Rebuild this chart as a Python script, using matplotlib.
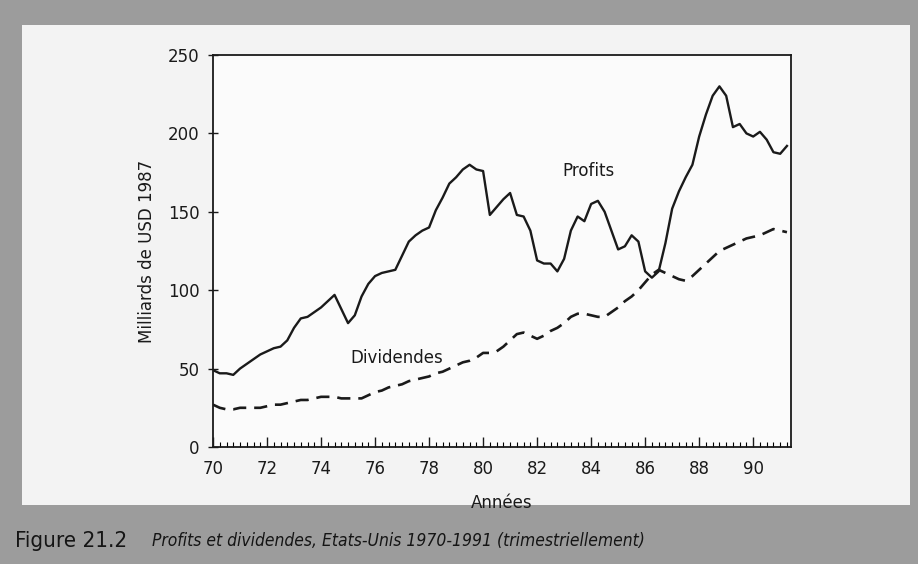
import numpy as np
import matplotlib.pyplot as plt
from matplotlib.patches import Rectangle
from matplotlib.ticker import MultipleLocator

# trimestres 1970T1 - 1991T2
annees = np.arange(1970, 1991.5, 0.25)

profits = [
    49, 47, 47, 46, 50, 53, 56, 59,
    61, 63, 64, 68, 76, 82, 83, 86,
    89, 93, 97, 88, 79, 84, 96, 104,
    109, 111, 112, 113, 122, 131, 135, 138,
    140, 151, 159, 168, 172, 177, 180, 177,
    176, 148, 153, 158, 162, 148, 147, 138,
    119, 117, 117, 112, 120, 138, 147, 144,
    155, 157, 150, 138, 126, 128, 135, 131,
    112, 108, 112, 130, 152, 163, 172, 180,
    198, 212, 224, 230, 224, 204, 206, 200,
    198, 201, 196, 188, 187, 192,
]

dividendes = [
    27, 25, 24, 24, 25, 25, 25, 25,
    26, 27, 27, 28, 29, 30, 30, 31,
    32, 32, 32, 31, 31, 31, 31, 33,
    35, 36, 38, 39, 40, 42, 43, 44,
    45, 47, 48, 50, 52, 54, 55, 57,
    60, 60, 61, 64, 68, 72, 73, 71,
    69, 71, 74, 76, 79, 83, 85, 85,
    84, 83, 83, 86, 89, 93, 96, 100,
    105, 110, 113, 111, 109, 107, 106, 109,
    113, 117, 121, 125, 127, 129, 131, 133,
    134, 135, 137, 139, 138, 137,
]

fig = plt.figure(figsize=(9.18, 5.64), dpi=100)
fig.patch.set_facecolor("#9c9c9c")

# panneau clair du scan (axes de fond)
bg = fig.add_axes([0, 0, 1, 1], zorder=-1)
bg.set_xlim(0, 918)
bg.set_ylim(564, 0)
bg.axis("off")
bg.add_patch(Rectangle((22, 25), 888, 480, facecolor="#f3f3f3", edgecolor="none"))

ax = fig.add_axes([213 / 918, 1 - 447 / 564, (791 - 213) / 918, (447 - 55) / 564])
ax.set_facecolor("#fbfbfb")

ax.plot(annees, profits, color="#1a1a1a", lw=1.7)
ax.plot(annees, dividendes, color="#1a1a1a", lw=1.9, ls=(0, (5, 3)))

ax.set_xlim(1970, 1991.4)
ax.set_ylim(0, 250)

ax.xaxis.set_minor_locator(MultipleLocator(0.25))
ax.set_xticks(np.arange(1970, 1991, 2))
ax.set_xticklabels([str(a % 100) for a in range(1970, 1991, 2)])
ax.yaxis.set_major_locator(MultipleLocator(50))

ax.tick_params(axis="x", which="major", direction="in", length=7, width=1, labelsize=12,
               pad=9, colors="#1a1a1a")
ax.tick_params(axis="x", which="minor", direction="in", length=3.5, width=0.8)
ax.tick_params(axis="y", which="major", direction="inout", length=7, width=1, labelsize=12,
               pad=6, colors="#1a1a1a")
for s in ax.spines.values():
    s.set_linewidth(1.3)
    s.set_color("#1a1a1a")

ax.set_xlabel("Années", fontsize=12, color="#1a1a1a", labelpad=12)
ax.set_ylabel("Milliards de USD 1987", fontsize=12, color="#1a1a1a", labelpad=9)

ax.text(1983.9, 176, "Profits", fontsize=12, ha="center", va="center", color="#1a1a1a")
ax.text(1976.8, 57, "Dividendes", fontsize=12, ha="center", va="center", color="#1a1a1a")

fig.text(15 / 918, 1 - 541 / 564, "Figure 21.2", fontsize=16, color="#151515",
         fontstretch="condensed", va="center", ha="left")
fig.text(152 / 918, 1 - 541 / 564, "Profits et dividendes, Etats-Unis 1970-1991 (trimestriellement)",
         fontsize=12.5, color="#151515", style="italic", fontstretch="condensed",
         va="center", ha="left")

fig.savefig("out.png", dpi=100)
